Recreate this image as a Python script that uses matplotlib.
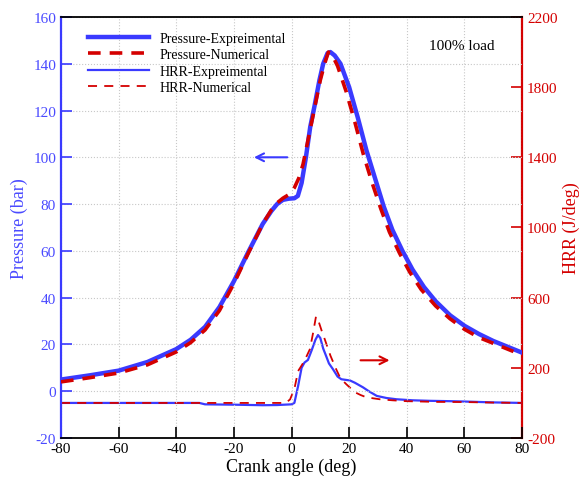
import matplotlib
matplotlib.use('Agg')
import matplotlib.pyplot as plt

# ── Data ──────────────────────────────────────────────────────────────────

# Pressure, experimental (bar)
p_exp_deg = [-80, -70, -60, -50, -40, -35, -30, -25, -20, -15, -10, -7, -5, -3, -1,
             1, 2.2, 3.5, 5, 6.5, 8, 9.7, 11, 12.5, 13.5, 15, 17, 20, 23, 26, 29,
             32, 35, 38.5, 42, 46, 50, 55, 60, 65, 70, 75, 80]
p_exp = [5.0, 6.8, 8.8, 12.5, 18.0, 22.0, 27.5, 36.0, 47.0, 59.5, 71.5, 77.0, 80.0,
         81.8, 82.3, 82.5, 83.5, 89, 100, 113, 122, 133, 140, 144.5, 145, 143.5,
         140, 130, 117, 103, 91, 79, 69, 60, 52, 44.5, 38.5, 32.5, 28, 24.5, 21.5,
         19, 16.5]

# Pressure, numerical (bar)
p_num_deg = [-80, -70, -60, -50, -40, -35, -30, -25, -20, -15, -10, -7, -5, -3, -1,
             1, 2.5, 4, 5.5, 7, 8.5, 10, 11.5, 12.8, 14, 16, 19, 22, 25, 28, 31,
             34, 37.5, 41, 45, 50, 55, 60, 65, 70, 75, 80]
p_num = [4.0, 5.8, 7.8, 11.3, 16.8, 20.8, 26.2, 34.5, 46, 59, 71.5, 77.5, 80.5,
         82.5, 84, 87, 91, 97, 106, 115, 124, 133, 140, 145, 144, 139, 128, 115,
         101, 89, 78, 68, 59, 51, 43.5, 36.5, 31, 26.5, 23, 20.5, 18, 15.5]

# Heat release rate, experimental (J/deg)
h_exp_deg = [-80, -60, -40, -32, -30, -20, -10, -5, 0, 1, 2.3, 3.5, 4.5, 5.7, 7,
             8.3, 9.2, 10, 11, 12, 13, 14.4, 16, 17.3, 20.3, 22, 24.8, 27, 29.6,
             33, 36.4, 42, 48, 55, 60, 70, 80]
h_exp = [0, 0, 0, 0, -8, -10, -13, -12, -8, 0, 97, 200, 230, 245, 300, 360, 387,
         370, 310, 268, 225, 192, 150, 135, 128, 115, 89, 65, 40, 28, 21, 15, 12,
         10, 8, 3, 0]

# Heat release rate, numerical (J/deg)
h_num_deg = [-80, -30, -20, -10, -2, -0.5, 1, 2.3, 3, 4.5, 6.4, 7.5, 8.5, 9.5,
             10.5, 11.6, 13.5, 15.5, 17, 19, 22, 24, 26, 30.6, 35, 40, 50, 60,
             70, 80]
h_num = [0, 0, 0, 0, 0, 20, 80, 182, 200, 240, 307, 400, 493, 460, 410, 360, 270,
         192, 140, 107, 61, 45, 32, 21, 15, 10, 6, 5, 2, 0]

x_ticks = list(range(-80, 81, 20))
p_ticks = list(range(-20, 161, 20))
h_ticks = list(range(-200, 2201, 400))

BLUE = '#3a3aff'
RED = '#d40000'
TXT_BLUE = '#4a4aff'

plt.rcParams['font.family'] = ['Liberation Serif', 'DejaVu Serif']
plt.rcParams['axes.unicode_minus'] = False

fig = plt.figure(figsize=(5.83, 4.85), dpi=100)
ax = fig.add_axes([0.1046, 0.0948, 0.7908, 0.8682])
ax2 = ax.twinx()

ax.plot(p_exp_deg, p_exp, color=BLUE, lw=3.2, label='Pressure-Expreimental', zorder=3)
ax.plot(p_num_deg, p_num, color=RED, lw=2.6, ls=(0, (3.5, 2.5)),
        label='Pressure-Numerical', zorder=4)
l3, = ax2.plot(h_exp_deg, h_exp, color=BLUE, lw=1.6, label='HRR-Expreimental', zorder=3)
l4, = ax2.plot(h_num_deg, h_num, color=RED, lw=1.3, ls=(0, (5, 4)),
               label='HRR-Numerical', zorder=4)

ax.set_xlim(-80, 80)
ax.set_ylim(-20, 160)
ax2.set_ylim(-200, 2200)
ax.set_xticks(x_ticks)
ax.set_yticks(p_ticks)
ax2.set_yticks(h_ticks)

ax.grid(True, color='#c8c8c8', ls=':', lw=0.8)
ax.set_axisbelow(True)

ax.tick_params(axis='x', direction='in', length=8, width=1.2, colors='black',
               labelsize=11, pad=3)
ax.tick_params(axis='y', direction='in', length=8, width=1.2, colors=BLUE,
               labelcolor=TXT_BLUE, labelsize=11)
ax2.tick_params(axis='y', direction='in', length=8, width=1.2, colors=RED,
                labelcolor=RED, labelsize=11)

for s in ['top', 'bottom']:
    ax.spines[s].set_color('black')
    ax.spines[s].set_linewidth(1.3)
ax.spines['left'].set_color(BLUE)
ax.spines['left'].set_linewidth(1.6)
ax.spines['right'].set_visible(False)
for s in ['left', 'top', 'bottom']:
    ax2.spines[s].set_visible(False)
ax2.spines['right'].set_color(RED)
ax2.spines['right'].set_linewidth(1.6)

ax.set_xlabel('Crank angle (deg)', fontsize=13, labelpad=2)
ax.set_ylabel('Pressure (bar)', fontsize=13, color=TXT_BLUE, labelpad=4)
ax2.set_ylabel('HRR (J/deg)', fontsize=13, color=RED, labelpad=4)

# direction arrows
ax.annotate('', xy=(-14, 100), xytext=(-0.5, 100),
            arrowprops=dict(arrowstyle='->', color=BLUE, lw=1.5,
                            mutation_scale=14))
ax2.annotate('', xy=(35, 243), xytext=(23, 243),
             arrowprops=dict(arrowstyle='->', color=RED, lw=1.5,
                             mutation_scale=14))

ax.text(59, 148, '100% load', fontsize=11, ha='center', va='center')

h1, lab1 = ax.get_legend_handles_labels()
leg = ax.legend(h1 + [l3, l4], lab1 + [l3.get_label(), l4.get_label()],
                loc='upper left', bbox_to_anchor=(0.04, 0.985), frameon=False,
                fontsize=10, handlelength=4.4, handletextpad=0.8,
                labelspacing=0.25, borderaxespad=0.2)
ax.set_zorder(ax2.get_zorder() + 1)
ax.patch.set_visible(False)

fig.savefig('out.png', dpi=100)
